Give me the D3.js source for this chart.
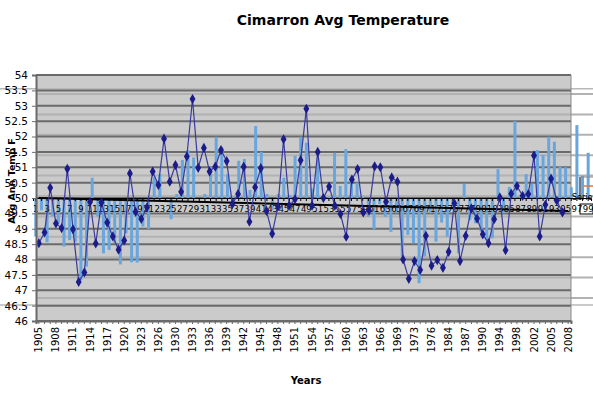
<!DOCTYPE html>
<html>
<head>
<meta charset="utf-8">
<script src="https://cdn.jsdelivr.net/npm/d3@7/dist/d3.min.js"></script>
<style>
body { margin: 0; background: #fff; }
svg { display: block; font-family: "DejaVu Sans", Verdana, sans-serif; }
</style>
</head>
<body>
<div id="chart"></div>
<script>
// categories of the main (year) axis, some years are missing in the sheet
var years = [1905, 1906, 1907, 1908, 1909, 1910, 1911, 1912, 1913, 1914,
	1915, 1916, 1917, 1918, 1919, 1920, 1921, 1922, 1923, 1924, 1925, 1926,
	1927, 1928, 1930, 1931, 1932, 1933, 1934, 1935, 1936, 1937, 1938, 1939,
	1940, 1941, 1942, 1943, 1944, 1945, 1946, 1947, 1948, 1949, 1950, 1951,
	1952, 1953, 1954, 1955, 1956, 1957, 1958, 1959, 1960, 1961, 1962, 1963,
	1964, 1965, 1966, 1967, 1968, 1969, 1970, 1972, 1973, 1974, 1975, 1976,
	1977, 1983, 1984, 1985, 1986, 1987, 1988, 1989, 1990, 1991, 1993, 1994,
	1995, 1997, 1998, 1999, 2001, 2002, 2003, 2004, 2005, 2006, 2007, 2008];

// average annual temperature (deg F), last year has no value
var avgTemp = [48.53, 48.88, 50.33, 49.17, 49.02, 50.95, 48.98, 47.27, 47.58,
	49.87, 48.52, 49.85, 49.2, 48.75, 48.32, 48.62, 50.8, 49.55, 49.32, 49.7,
	50.86, 50.42, 51.93, 50.53, 51.07, 50.2, 51.35, 53.22, 50.98, 51.63, 50.86,
	51.02, 51.56, 51.2, 49.8, 50.13, 51.02, 49.23, 50.35, 50.97, 49.58, 48.84,
	49.72, 51.91, 49.75, 49.96, 51.23, 52.9, 49.75, 51.5, 50.0, 50.37, 49.75,
	49.48, 48.74, 50.6, 50.94, 49.53, 49.6, 51.03, 51.0, 49.88, 50.67, 50.53,
	48.0, 47.37, 47.95, 47.66, 48.77, 47.8, 47.98, 47.73, 48.25, 49.83, 47.95,
	48.77, 49.66, 49.33, 48.82, 48.53, 49.31, 50.02, 48.3, 50.14, 50.39, 50.07,
	50.13, 51.38, 48.75, 49.78, 50.63, 49.91, 49.53, null];

// second series, drawn as bars from 50 on its own numbered category axis
var barNumbers = d3.range(1, 100);
var barTemp = [48.74, 49.6, 48.56, 49.4, 49.18, 48.42, 48.63, 48.56, 47.33,
	47.77, 50.66, 49.4, 48.2, 48.31, 48.53, 47.84, 48.85, 47.91, 47.9, 49.07,
	48.99, 50.69, 50.78, 49.95, 49.31, 50.13, 51.24, 51.56, 51.32, 50.0, 50.13,
	51.02, 51.99, 51.65, 50.78, 50.05, 51.21, 51.27, 50.26, 52.34, 51.5, 50.13,
	49.61, 50.13, 50.66, 50.1, 51.37, 51.99, 51.8, 50.31, 51.29, 50.05, 50.05,
	51.47, 50.39, 51.59, 50.6, 50.5, 50.05, 49.39, 48.98, 49.8, 49.39, 48.9,
	49.5, 48.09, 48.8, 48.53, 47.23, 48.1, 49.5, 48.58, 49.2, 48.74, 49.6, 48.2,
	50.46, 49.28, 49.18, 48.9, 48.63, 48.69, 50.94, 49.5, 50.36, 52.5, 50.1,
	50.78, 50.46, 51.56, 51.4, 51.99, 51.83, 51.02, 51.0, 50.35, 52.37, 50.72,
	51.47];

// linear trend of the temperature line, first and last category
var trendEnds = [50.0, 49.58];

var yTicks = d3.range(46, 54.01, 0.5);
var secTicks = d3.range(-5, 5.01, 1);

var width = 593, height = 398;
var plot = { left : 36, right : 571, top : 75, bottom : 321 };

var svg = d3.select("#chart").append("svg").attr("width", width).attr(
		"height", height);

var x = d3.scaleBand().domain(years).range([ plot.left, plot.right ]);
var x2 = d3.scaleBand().domain(barNumbers).range([ 33, 591 ]);
var y = d3.scaleLinear().domain([ 46, 54 ]).range([ plot.bottom, plot.top ]);
var ySec = d3.scaleLinear().domain([ -5, 5 ]).range([ y(46.75), y(53.38) ]);

// plot area
svg.append("rect").attr("x", plot.left).attr("y", plot.top).attr("width",
		plot.right - plot.left).attr("height", plot.bottom - plot.top).attr(
		"fill", "#cbcbcb");

// gridlines of the secondary axis, lighter
svg.selectAll(".secgrid").data(secTicks).enter().append("line").attr("x1",
		plot.left).attr("x2", width).attr("y1", function(d) {
	return ySec(d);
}).attr("y2", function(d) {
	return ySec(d);
}).attr("stroke", "#b2b2b2").attr("stroke-width", 2);

svg.selectAll(".secedge").data([ 53.55, 46.52 ]).enter().append("line")
		.attr("x1", 0).attr("x2", width).attr("y1", function(d) {
			return y(d);
		}).attr("y2", function(d) {
			return y(d);
		}).attr("stroke", "#b8b8b8").attr("stroke-width", 1.5);

// main gridlines
svg.selectAll(".grid").data(yTicks).enter().append("line").attr("x1",
		plot.left).attr("x2", plot.right).attr("y1", function(d) {
	return y(d);
}).attr("y2", function(d) {
	return y(d);
}).attr("stroke", "#6a6a6a").attr("stroke-width", 2);

svg.append("line").attr("x1", plot.right).attr("x2", plot.right).attr("y1",
		plot.top).attr("y2", plot.bottom).attr("stroke", "#8a8a8a");

// bars
svg.selectAll(".bar").data(barTemp).enter().append("rect").attr("x",
		function(d, i) {
			return x2(barNumbers[i]) + x2.bandwidth() / 2 - 1.5;
		}).attr("width", 3).attr("y", function(d) {
	return y(Math.max(d, 50));
}).attr("height", function(d) {
	return Math.abs(y(d) - y(50));
}).attr("fill", "#6aa6de");

// selected label box behind the last category label
svg.append("rect").attr("x", 580).attr("y", 204).attr("width", 13).attr(
		"height", 10).attr("fill", "#fff").attr("stroke", "#000");

// secondary category axis on 50
var axis2 = svg.append("g").attr("transform", "translate(0," + y(50) + ")")
		.call(d3.axisBottom(x2).tickSize(3).tickFormat(function(d) {
			return d % 2 === 1 ? d : "";
		}));
axis2.select(".domain").attr("stroke", "#000");
axis2.selectAll(".tick line").attr("stroke", "#000");
axis2.selectAll("text").attr("font-size", 8.5).attr("font-family",
		"DejaVu Sans").attr("fill", "#000").attr("y", 8).attr("dy", "0.71em");

// trend line
svg.append("line").attr("x1", x(years[0]) + x.bandwidth() / 2).attr("x2",
		x(years[years.length - 1]) + x.bandwidth() / 2).attr("y1",
		y(trendEnds[0])).attr("y2", y(trendEnds[1])).attr("stroke", "#000")
		.attr("stroke-width", 2);

// temperature line
var pts = avgTemp.map(function(d, i) {
	return { year : years[i], v : d };
}).filter(function(d) {
	return d.v !== null;
});

var valueline = d3.line().x(function(d) {
	return x(d.year) + x.bandwidth() / 2;
}).y(function(d) {
	return y(d.v);
});

svg.append("path").datum(pts).attr("d", valueline).attr("fill", "none")
		.attr("stroke", "#3a3a9e").attr("stroke-width", 1.2);

svg.selectAll(".pt").data(pts).enter().append("path").attr("transform",
		function(d) {
			return "translate(" + (x(d.year) + x.bandwidth() / 2) + ","
					+ y(d.v) + ")";
		}).attr("d", d3.symbol().type(d3.symbolDiamond).size(30)).attr("fill",
		"#1b1b8a");

// y axis
var yAxis = svg.append("g").attr("transform", "translate(" + plot.left + ",0)")
		.call(d3.axisLeft(y).tickValues(yTicks).tickSize(4).tickFormat(
				function(d) {
					return d;
				}));
yAxis.select(".domain").attr("stroke", "#6a6a6a").attr("stroke-width", 2);
yAxis.selectAll(".tick line").attr("stroke", "#6a6a6a");
yAxis.selectAll("text").attr("font-size", 10.5).attr("font-family",
		"DejaVu Sans").attr("fill", "#000").attr("x", -8);

// x axis
var xAxis = svg.append("g").attr("transform",
		"translate(0," + plot.bottom + ")").call(
		d3.axisBottom(x).tickSize(3).tickFormat(function(d) {
			return years.indexOf(d) % 3 === 0 ? d : "";
		}));
xAxis.select(".domain").attr("stroke", "#6a6a6a").attr("stroke-width", 2);
xAxis.selectAll(".tick line").attr("stroke", "#6a6a6a");
xAxis.selectAll("text").attr("font-size", 10).attr("font-family",
		"DejaVu Sans").attr("fill", "#000").attr("transform", "rotate(-90)")
		.attr("text-anchor", "end").attr("x", -6).attr("y", 0).attr("dy",
				"0.35em");

// legend remains on the right edge
svg.append("line").attr("x1", 580).attr("x2", 600).attr("y1", 177).attr("y2",
		177).attr("stroke", "#8a8a8a");
svg.append("rect").attr("x", 579).attr("y", 177).attr("width", 2).attr(
		"height", 21).attr("fill", "#7a7a7a");
svg.append("line").attr("x1", 584).attr("x2", 600).attr("y1", 186).attr("y2",
		186).attr("stroke", "#e8743b").attr("stroke-width", 1.5);
svg.append("text").attr("x", 572).attr("y", 200).attr("font-size", 8)
		.text("Serie");

// titles
svg.append("text").attr("x", 343).attr("y", 25).attr("text-anchor", "middle")
		.attr("font-size", 14).attr("font-weight", "bold").text(
				"Cimarron Avg Temperature");
svg.append("text").attr("x", 306).attr("y", 384).attr("text-anchor", "middle")
		.attr("font-size", 10).attr("font-weight", "bold").text("Years");
svg.append("text").attr("transform", "translate(15,181) rotate(-90)").attr(
		"text-anchor", "middle").attr("font-size", 9.5).attr("font-weight",
		"bold").text("Avg Ann Temp F");
</script>
</body>
</html>
